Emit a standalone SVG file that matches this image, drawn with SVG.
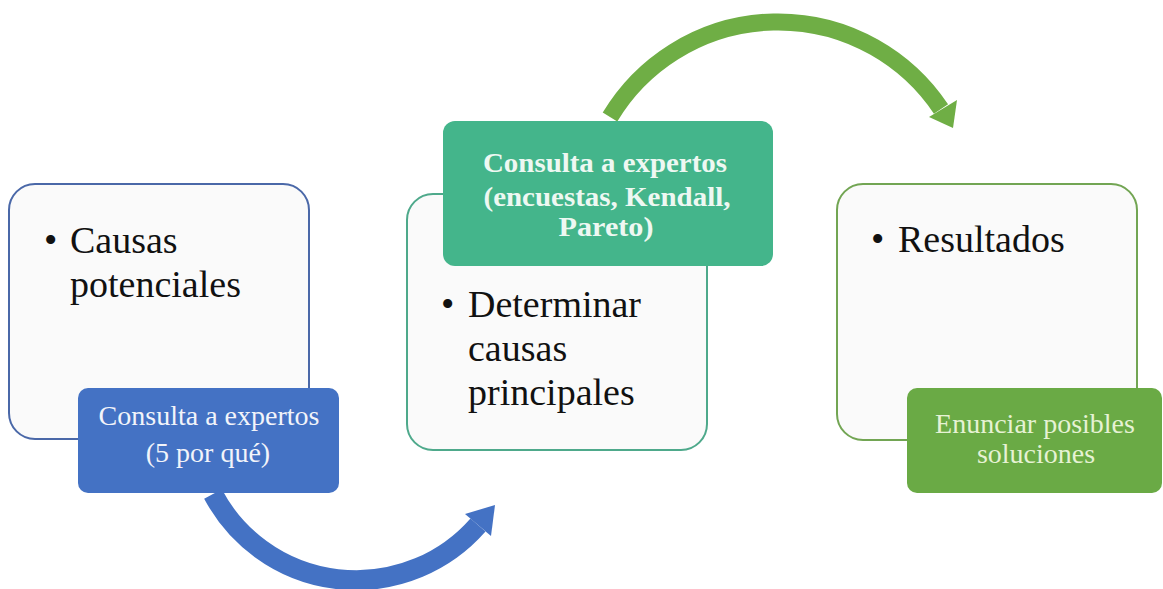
<svg xmlns="http://www.w3.org/2000/svg" width="1163" height="589" viewBox="0 0 1163 589">
<style>
.panel{fill:#fafafa;stroke-width:2}
.main{font-family:"Liberation Serif","Times New Roman",serif;font-size:38px;fill:#111}
.lbl{font-family:"Liberation Serif","Times New Roman",serif;font-size:28px;text-anchor:middle}
.bold{font-weight:bold;font-size:28px}
</style>
<rect width="1163" height="589" fill="#ffffff"/>
<g id="connectors">
  <path d="M213,494 A162,162 0 0 0 478,525" fill="none" stroke="#4472c4" stroke-width="20"/>
  <polygon points="465,514 495,505 491,536" fill="#4472c4"/>
  <path d="M610,117 A196,196 0 0 1 941,109" fill="none" stroke="#6fae45" stroke-width="17"/>
  <polygon points="929,117 957,100 953,128" fill="#6fae45"/>
</g>
<g id="node-causas">
  <rect class="panel" x="9" y="184" width="300" height="255" rx="26" stroke="#4a68a8"/>
  <text class="main" x="44" y="253">•</text>
  <text class="main" x="70" y="253">Causas</text>
  <text class="main" x="70" y="297">potenciales</text>
</g>
<g id="node-consulta1">
  <rect x="78" y="388" width="261" height="105" rx="10" fill="#4472c4"/>
  <text class="lbl" x="209" y="425" fill="#f2f4fa">Consulta a expertos</text>
  <text class="lbl" x="208" y="462" fill="#f2f4fa">(5 por qué)</text>
</g>
<g id="node-determinar">
  <rect class="panel" x="407" y="194" width="300" height="256" rx="26" stroke="#4ea98b"/>
  <text class="main" x="441" y="317">•</text>
  <text class="main" x="468" y="317">Determinar</text>
  <text class="main" x="468" y="361">causas</text>
  <text class="main" x="468" y="405">principales</text>
</g>
<g id="node-consulta2">
  <rect x="443" y="121" width="330" height="145" rx="12" fill="#44b58b"/>
  <text class="lbl bold" x="605" y="172" fill="#eef8f2" textLength="244" lengthAdjust="spacingAndGlyphs">Consulta a expertos</text>
  <text class="lbl bold" x="607" y="206" fill="#eef8f2" textLength="247" lengthAdjust="spacingAndGlyphs">(encuestas, Kendall,</text>
  <text class="lbl bold" x="606" y="236" fill="#eef8f2" textLength="95" lengthAdjust="spacingAndGlyphs">Pareto)</text>
</g>
<g id="node-resultados">
  <rect class="panel" x="837" y="184" width="300" height="256" rx="26" stroke="#72a553"/>
  <text class="main" x="871" y="252">•</text>
  <text class="main" x="898" y="252">Resultados</text>
</g>
<g id="node-enunciar">
  <rect x="907" y="388" width="255" height="105" rx="10" fill="#6aaa45"/>
  <text class="lbl" x="1035" y="433" fill="#e6f2d4">Enunciar posibles</text>
  <text class="lbl" x="1036" y="463" fill="#e6f2d4">soluciones</text>
</g>
</svg>
